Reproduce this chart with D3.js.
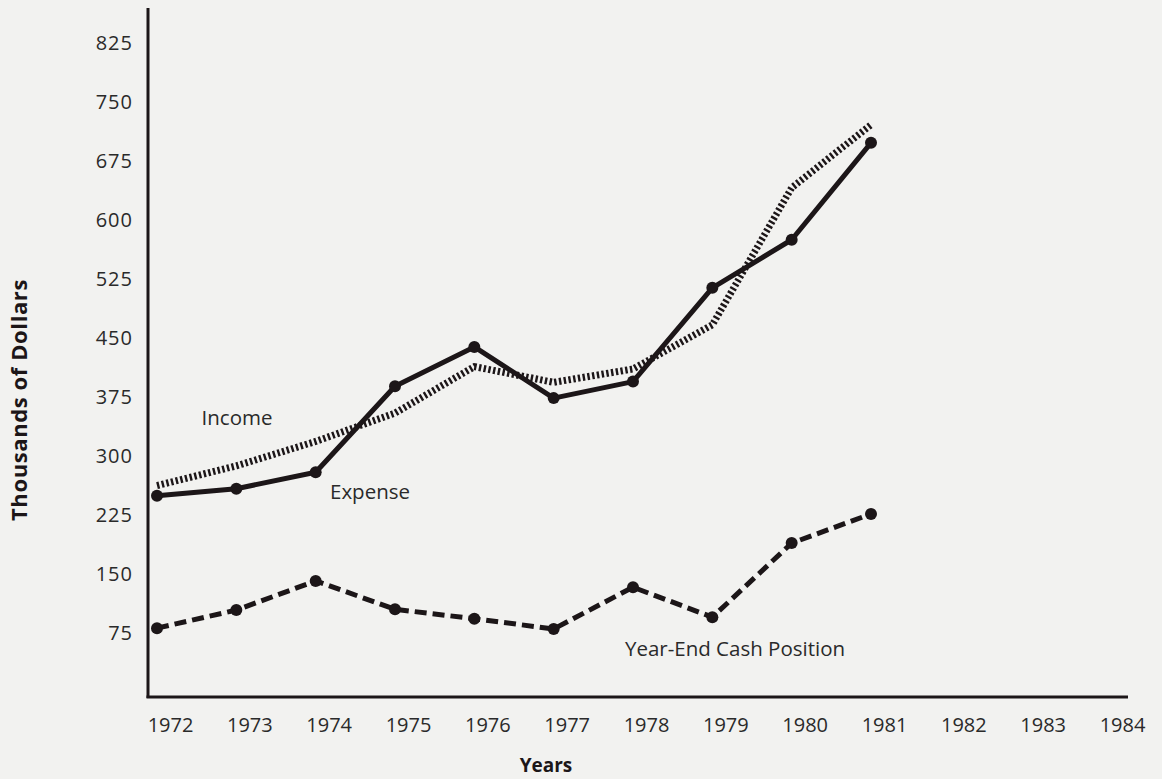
<!DOCTYPE html>
<html>
<head>
<meta charset="utf-8">
<script src="https://cdn.jsdelivr.net/npm/d3@7"></script>
<style>
  html, body { margin: 0; padding: 0; background: #f2f2f0; }
  svg { display: block; }
</style>
</head>
<body>
<svg id="chart" width="1162" height="779"></svg>
<script>
// ---- Data (thousands of dollars) ----
const years = [1972, 1973, 1974, 1975, 1976, 1977, 1978, 1979, 1980, 1981];
const income = [262, 287, 318, 354, 413, 393, 410, 466, 640, 720];
const expense = [249, 258, 279, 388, 438, 373, 394, 513, 574, 697];
const cashPosition = [81, 104, 141, 105, 93, 80, 133, 95, 189, 226];
const xTickYears = [1972, 1973, 1974, 1975, 1976, 1977, 1978, 1979, 1980, 1981, 1982, 1983, 1984];
const yTickValues = [75, 150, 225, 300, 375, 450, 525, 600, 675, 750, 825];

const svg = d3.select("#chart");
const ink = "#1c1618";
const textCol = "#2a2a2a";
const font = "'Open Sans', 'Noto Sans', sans-serif";

const x = d3.scaleLinear().domain([1972, 1984]).range([157, 1109]);
const y = d3.scaleLinear().domain([0, 825]).range([692, 42]);

// Axes lines
svg.append("line").attr("x1", 148).attr("x2", 148).attr("y1", 8).attr("y2", 698)
  .attr("stroke", ink).attr("stroke-width", 3);
svg.append("line").attr("x1", 146.5).attr("x2", 1128).attr("y1", 697).attr("y2", 697)
  .attr("stroke", ink).attr("stroke-width", 3);

// Y tick labels
const yAxis = d3.axisLeft(y).tickValues(yTickValues).tickSize(0).tickPadding(0);
const gy = svg.append("g").attr("transform", "translate(133,0)").call(yAxis);
gy.select(".domain").remove();
gy.selectAll("text").attr("font-family", font).attr("font-size", 20)
  .attr("letter-spacing", "1px")
  .attr("fill", textCol).attr("dy", "0.35em");

// X tick labels
const xAxis = d3.axisBottom(x).tickValues(xTickYears).tickFormat(d3.format("d")).tickSize(0).tickPadding(0);
const gx = svg.append("g").attr("transform", "translate(13,718)").call(xAxis);
gx.select(".domain").remove();
gx.selectAll("text").attr("font-family", font).attr("font-size", 20)
  .attr("fill", textCol);

// Axis titles
svg.append("text").attr("x", 546).attr("y", 772).attr("text-anchor", "middle")
  .attr("font-family", font).attr("font-size", 19).attr("font-weight", 700)
  .attr("fill", ink).text("Years");
svg.append("text").attr("transform", "translate(27,400) rotate(-90)").attr("text-anchor", "middle")
  .attr("font-family", font).attr("font-size", 22).attr("font-weight", 700)
  .attr("letter-spacing", "0.6px")
  .attr("fill", ink).text("Thousands of Dollars");

const line = d3.line().x((d, i) => x(years[i])).y(d => y(d));

// Income (dotted)
svg.append("path").datum(income).attr("d", line)
  .attr("fill", "none").attr("stroke", ink).attr("stroke-width", 7)
  .attr("stroke-dasharray", "2.4,2.4");

// Expense (solid)
svg.append("path").datum(expense).attr("d", line)
  .attr("fill", "none").attr("stroke", ink).attr("stroke-width", 5)
  .attr("stroke-linejoin", "round");
svg.append("g").selectAll("circle").data(expense).join("circle")
  .attr("cx", (d, i) => x(years[i])).attr("cy", d => y(d)).attr("r", 6).attr("fill", ink);

// Year-End Cash Position (dashed)
svg.append("path").datum(cashPosition).attr("d", line)
  .attr("fill", "none").attr("stroke", ink).attr("stroke-width", 5)
  .attr("stroke-dasharray", "12,6");
svg.append("g").selectAll("circle").data(cashPosition).join("circle")
  .attr("cx", (d, i) => x(years[i])).attr("cy", d => y(d)).attr("r", 6).attr("fill", ink);

// Series labels
const lab = (t, xx, yy) => svg.append("text").attr("x", xx).attr("y", yy).attr("text-anchor", "middle")
  .attr("font-family", font).attr("font-size", 20.5).attr("fill", textCol).text(t);
lab("Income", 237, 425);
lab("Expense", 370, 499);
lab("Year-End Cash Position", 735, 656);
</script>
</body>
</html>
